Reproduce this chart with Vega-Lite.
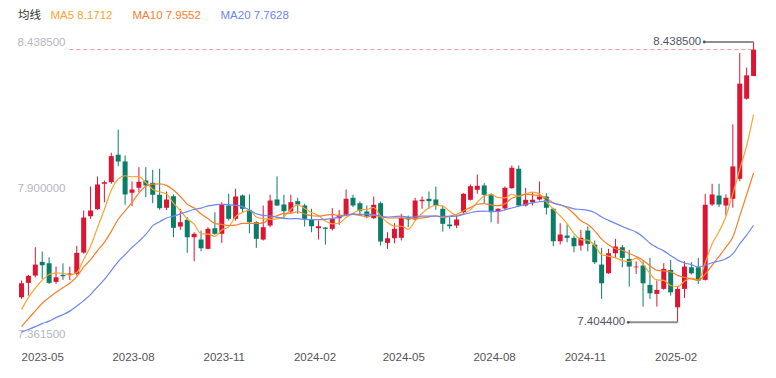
{
"$schema": "https://vega.github.io/schema/vega-lite/v6.json",
"width": 745, "height": 292,
"autosize": {"type": "none"},
"padding": {"left": 17, "top": 42, "right": 14, "bottom": 44},
"config": {"view": {"stroke": null}, "font": "Liberation Sans, Noto Sans CJK SC, sans-serif"},
"datasets": {
"k": [
{"date":"2023-04-10","open":7.4968,"high":7.5585,"low":7.4909,"close":7.5485},
{"date":"2023-04-17","open":7.5500,"high":7.5796,"low":7.5031,"close":7.5759},
{"date":"2023-04-24","open":7.5770,"high":7.6815,"low":7.5707,"close":7.6176},
{"date":"2023-05-01","open":7.6276,"high":7.6656,"low":7.5648,"close":7.6150},
{"date":"2023-05-08","open":7.6224,"high":7.6445,"low":7.5463,"close":7.5500},
{"date":"2023-05-15","open":7.5537,"high":7.6102,"low":7.5463,"close":7.5707},
{"date":"2023-05-22","open":7.5796,"high":7.6224,"low":7.5611,"close":7.5744},
{"date":"2023-05-29","open":7.5796,"high":7.6102,"low":7.5596,"close":7.5844},
{"date":"2023-06-05","open":7.5833,"high":7.6866,"low":7.5770,"close":7.6608},
{"date":"2023-06-12","open":7.6619,"high":7.8170,"low":7.6571,"close":7.7911},
{"date":"2023-06-19","open":7.7959,"high":7.9056,"low":7.7863,"close":7.8170},
{"date":"2023-06-26","open":7.8218,"high":7.9425,"low":7.8196,"close":7.9130},
{"date":"2023-07-03","open":7.9156,"high":7.9277,"low":7.8476,"close":7.9215},
{"date":"2023-07-10","open":7.9215,"high":8.0301,"low":7.9156,"close":8.0175},
{"date":"2023-07-17","open":8.0227,"high":8.1150,"low":7.9806,"close":7.9979},
{"date":"2023-07-24","open":7.9979,"high":8.0201,"low":7.8381,"close":7.8761},
{"date":"2023-07-31","open":7.8824,"high":7.9241,"low":7.8329,"close":7.8945},
{"date":"2023-08-07","open":7.9008,"high":7.9769,"low":7.8846,"close":7.9230},
{"date":"2023-08-14","open":7.9277,"high":7.9769,"low":7.8661,"close":7.9093},
{"date":"2023-08-21","open":7.9193,"high":7.9673,"low":7.8439,"close":7.8750},
{"date":"2023-08-28","open":7.8750,"high":7.9710,"low":7.8196,"close":7.8255},
{"date":"2023-09-04","open":7.8270,"high":7.8872,"low":7.8189,"close":7.8576},
{"date":"2023-09-11","open":7.8698,"high":7.8761,"low":7.7184,"close":7.7531},
{"date":"2023-09-18","open":7.7579,"high":7.8233,"low":7.7457,"close":7.7738},
{"date":"2023-09-25","open":7.7828,"high":7.7922,"low":7.6608,"close":7.7184},
{"date":"2023-10-02","open":7.7184,"high":7.7369,"low":7.6298,"close":7.7310},
{"date":"2023-10-09","open":7.7099,"high":7.7431,"low":7.6667,"close":7.6778},
{"date":"2023-10-16","open":7.6756,"high":7.7553,"low":7.6741,"close":7.7494},
{"date":"2023-10-23","open":7.7516,"high":7.8107,"low":7.7273,"close":7.7310},
{"date":"2023-10-30","open":7.7310,"high":7.8476,"low":7.6977,"close":7.8381},
{"date":"2023-11-06","open":7.8355,"high":7.8787,"low":7.7801,"close":7.7863},
{"date":"2023-11-13","open":7.7863,"high":7.8971,"low":7.7801,"close":7.8687},
{"date":"2023-11-20","open":7.8724,"high":7.8761,"low":7.8107,"close":7.8233},
{"date":"2023-11-27","open":7.8196,"high":7.8761,"low":7.7332,"close":7.7738},
{"date":"2023-12-04","open":7.7738,"high":7.7775,"low":7.6793,"close":7.7125},
{"date":"2023-12-11","open":7.7099,"high":7.8355,"low":7.7062,"close":7.7553},
{"date":"2023-12-18","open":7.7616,"high":7.8750,"low":7.7553,"close":7.8539},
{"date":"2023-12-25","open":7.8576,"high":7.9425,"low":7.8329,"close":7.8355},
{"date":"2024-01-01","open":7.8392,"high":7.8750,"low":7.7863,"close":7.8144},
{"date":"2024-01-08","open":7.8133,"high":7.8750,"low":7.8048,"close":7.8476},
{"date":"2024-01-15","open":7.8513,"high":7.8639,"low":7.8048,"close":7.8392},
{"date":"2024-01-22","open":7.8355,"high":7.8418,"low":7.7579,"close":7.7863},
{"date":"2024-01-29","open":7.7838,"high":7.8233,"low":7.7369,"close":7.7590},
{"date":"2024-02-05","open":7.7516,"high":7.7801,"low":7.7099,"close":7.7590},
{"date":"2024-02-12","open":7.7542,"high":7.7553,"low":7.6914,"close":7.7494},
{"date":"2024-02-19","open":7.7494,"high":7.8255,"low":7.7431,"close":7.7863},
{"date":"2024-02-26","open":7.7885,"high":7.8196,"low":7.7642,"close":7.8011},
{"date":"2024-03-04","open":7.8011,"high":7.8945,"low":7.7959,"close":7.8602},
{"date":"2024-03-11","open":7.8639,"high":7.8750,"low":7.8292,"close":7.8355},
{"date":"2024-03-18","open":7.8439,"high":7.8502,"low":7.8011,"close":7.8144},
{"date":"2024-03-25","open":7.8133,"high":7.8355,"low":7.7885,"close":7.7922},
{"date":"2024-04-01","open":7.7885,"high":7.8687,"low":7.7863,"close":7.8381},
{"date":"2024-04-08","open":7.8439,"high":7.8502,"low":7.6877,"close":7.7025},
{"date":"2024-04-15","open":7.6977,"high":7.7369,"low":7.6756,"close":7.7147},
{"date":"2024-04-22","open":7.7147,"high":7.7701,"low":7.6962,"close":7.7494},
{"date":"2024-04-29","open":7.7162,"high":7.8048,"low":7.7062,"close":7.7900},
{"date":"2024-05-06","open":7.7922,"high":7.7985,"low":7.7553,"close":7.7838},
{"date":"2024-05-13","open":7.7838,"high":7.8639,"low":7.7801,"close":7.8539},
{"date":"2024-05-20","open":7.8513,"high":7.8687,"low":7.8233,"close":7.8565},
{"date":"2024-05-27","open":7.8602,"high":7.8872,"low":7.8233,"close":7.8513},
{"date":"2024-06-03","open":7.8576,"high":7.9056,"low":7.8196,"close":7.8355},
{"date":"2024-06-10","open":7.8233,"high":7.8355,"low":7.7395,"close":7.7679},
{"date":"2024-06-17","open":7.7653,"high":7.7922,"low":7.7494,"close":7.7590},
{"date":"2024-06-24","open":7.7616,"high":7.7985,"low":7.7516,"close":7.7838},
{"date":"2024-07-01","open":7.8107,"high":7.8809,"low":7.8048,"close":7.8787},
{"date":"2024-07-08","open":7.8565,"high":7.9130,"low":7.8539,"close":7.9067},
{"date":"2024-07-15","open":7.8934,"high":7.9499,"low":7.8787,"close":7.9082},
{"date":"2024-07-22","open":7.9093,"high":7.9178,"low":7.8439,"close":7.8750},
{"date":"2024-07-29","open":7.8761,"high":7.8809,"low":7.7738,"close":7.8107},
{"date":"2024-08-05","open":7.8144,"high":7.8255,"low":7.7679,"close":7.8233},
{"date":"2024-08-12","open":7.8244,"high":7.9056,"low":7.8196,"close":7.9008},
{"date":"2024-08-19","open":7.8993,"high":7.9832,"low":7.8971,"close":7.9747},
{"date":"2024-08-26","open":7.9710,"high":7.9832,"low":7.8329,"close":7.8355},
{"date":"2024-09-02","open":7.8355,"high":7.9008,"low":7.8318,"close":7.8565},
{"date":"2024-09-09","open":7.8476,"high":7.8846,"low":7.8355,"close":7.8565},
{"date":"2024-09-16","open":7.8576,"high":7.9241,"low":7.8539,"close":7.8687},
{"date":"2024-09-23","open":7.8687,"high":7.8809,"low":7.8022,"close":7.8270},
{"date":"2024-09-30","open":7.8233,"high":7.8270,"low":7.6852,"close":7.7036},
{"date":"2024-10-07","open":7.7036,"high":7.7701,"low":7.6914,"close":7.7283},
{"date":"2024-10-14","open":7.7246,"high":7.7653,"low":7.6999,"close":7.7162},
{"date":"2024-10-21","open":7.7162,"high":7.7246,"low":7.6630,"close":7.6852},
{"date":"2024-10-28","open":7.6877,"high":7.7457,"low":7.6693,"close":7.7162},
{"date":"2024-11-04","open":7.7431,"high":7.7579,"low":7.6667,"close":7.6940},
{"date":"2024-11-11","open":7.6914,"high":7.7062,"low":7.6202,"close":7.6261},
{"date":"2024-11-18","open":7.6176,"high":7.6793,"low":7.4909,"close":7.5485},
{"date":"2024-11-25","open":7.5855,"high":7.6756,"low":7.5833,"close":7.6593},
{"date":"2024-12-02","open":7.6593,"high":7.7125,"low":7.6423,"close":7.6841},
{"date":"2024-12-09","open":7.6815,"high":7.6904,"low":7.6076,"close":7.6423},
{"date":"2024-12-16","open":7.6386,"high":7.6719,"low":7.5363,"close":7.6102},
{"date":"2024-12-23","open":7.6076,"high":7.6298,"low":7.5833,"close":7.6102},
{"date":"2024-12-30","open":7.6139,"high":7.6298,"low":7.4625,"close":7.5485},
{"date":"2025-01-06","open":7.5426,"high":7.6423,"low":7.4909,"close":7.5116},
{"date":"2025-01-13","open":7.5094,"high":7.5585,"low":7.4625,"close":7.5242},
{"date":"2025-01-20","open":7.5279,"high":7.6224,"low":7.5242,"close":7.6017},
{"date":"2025-01-27","open":7.5980,"high":7.6349,"low":7.5031,"close":7.5153},
{"date":"2025-02-03","open":7.4599,"high":7.5363,"low":7.4044,"close":7.5279},
{"date":"2025-02-10","open":7.5279,"high":7.6298,"low":7.4946,"close":7.6102},
{"date":"2025-02-17","open":7.6076,"high":7.6261,"low":7.5807,"close":7.5855},
{"date":"2025-02-24","open":7.6076,"high":7.6423,"low":7.5463,"close":7.5585},
{"date":"2025-03-03","open":7.5611,"high":7.8787,"low":7.5585,"close":7.8381},
{"date":"2025-03-10","open":7.8392,"high":7.9156,"low":7.8336,"close":7.8761},
{"date":"2025-03-17","open":7.8724,"high":7.9156,"low":7.8300,"close":7.8392},
{"date":"2025-03-24","open":7.8355,"high":7.8761,"low":7.7985,"close":7.8639},
{"date":"2025-03-31","open":7.8602,"high":8.1346,"low":7.8270,"close":7.9795},
{"date":"2025-04-07","open":7.9341,"high":8.3979,"low":7.9252,"close":8.2849},
{"date":"2025-04-14","open":8.2295,"high":8.3440,"low":8.2258,"close":8.3155},
{"date":"2025-04-21","open":8.3129,"high":8.4385,"low":8.3129,"close":8.4105}
],
"maEarly": [
{"date":"2023-04-10","series":"MA5","ma":7.4514},
{"date":"2023-04-17","series":"MA5","ma":7.4957},
{"date":"2023-04-24","series":"MA5","ma":7.5308},
{"date":"2023-05-01","series":"MA5","ma":7.5604},
{"date":"2023-05-08","series":"MA5","ma":7.5814},
{"date":"2023-04-10","series":"MA10","ma":7.3886},
{"date":"2023-04-17","series":"MA10","ma":7.4182},
{"date":"2023-04-24","series":"MA10","ma":7.4466},
{"date":"2023-05-01","series":"MA10","ma":7.4750},
{"date":"2023-05-08","series":"MA10","ma":7.4957},
{"date":"2023-05-15","series":"MA10","ma":7.5153},
{"date":"2023-05-22","series":"MA10","ma":7.5326},
{"date":"2023-05-29","series":"MA10","ma":7.5489},
{"date":"2023-06-05","series":"MA10","ma":7.5729},
{"date":"2023-06-12","series":"MA10","ma":7.6088},
{"date":"2023-04-10","series":"MA20","ma":7.3684},
{"date":"2023-04-17","series":"MA20","ma":7.3782},
{"date":"2023-04-24","series":"MA20","ma":7.3886},
{"date":"2023-05-01","series":"MA20","ma":7.3997},
{"date":"2023-05-08","series":"MA20","ma":7.4090},
{"date":"2023-05-15","series":"MA20","ma":7.4219},
{"date":"2023-05-22","series":"MA20","ma":7.4329},
{"date":"2023-05-29","series":"MA20","ma":7.4459},
{"date":"2023-06-05","series":"MA20","ma":7.4644},
{"date":"2023-06-12","series":"MA20","ma":7.4846},
{"date":"2023-06-19","series":"MA20","ma":7.5068},
{"date":"2023-06-26","series":"MA20","ma":7.5356},
{"date":"2023-07-03","series":"MA20","ma":7.5629},
{"date":"2023-07-10","series":"MA20","ma":7.5954},
{"date":"2023-07-17","series":"MA20","ma":7.6287},
{"date":"2023-07-24","series":"MA20","ma":7.6545},
{"date":"2023-07-31","series":"MA20","ma":7.6804},
{"date":"2023-08-07","series":"MA20","ma":7.7032},
{"date":"2023-08-14","series":"MA20","ma":7.7288},
{"date":"2023-08-21","series":"MA20","ma":7.7617}
],
"last": [{"date":"2023-05-28T12:00:00Z","end":"2025-04-23T12:00:00Z","price":8.4105}],
"ann": [
{"date":"2024-12-15","end":"2025-02-03","v":7.4044,"t":"7.404400"},
{"date":"2025-03-02","end":"2025-04-21","v":8.4385,"t":"8.438500"}
]
},
"encoding": {
"x": {"field": "date", "type": "temporal",
 "scale": {"type": "utc", "domain": [{"utc": true, "year": 2023, "month": 4, "date": 10, "hours": 12}, {"utc": true, "year": 2025, "month": 4, "date": 24, "hours": 12}]},
 "axis": {"title": null, "format": "%Y-%m", "formatType": "utc", "labelExpr": "utcFormat(datum.value, '%Y-%m')", "grid": false, "domain": false, "ticks": false, "labelPadding": 17, "labelFontSize": 11.5, "labelColor": "#555555", "labelFlush": false, "labelOverlap": false, "labelAngle": 0,
  "values": [
   {"utc": true, "year": 2023, "month": 5, "date": 1},
   {"utc": true, "year": 2023, "month": 8, "date": 1},
   {"utc": true, "year": 2023, "month": 11, "date": 1},
   {"utc": true, "year": 2024, "month": 2, "date": 1},
   {"utc": true, "year": 2024, "month": 5, "date": 1},
   {"utc": true, "year": 2024, "month": 8, "date": 1},
   {"utc": true, "year": 2024, "month": 11, "date": 1},
   {"utc": true, "year": 2025, "month": 2, "date": 1}]}}
},
"layer": [
{"data": {"name": "k"}, "mark": {"type": "rule", "strokeWidth": 1, "clip": true},
 "encoding": {
  "y": {"field": "low", "type": "quantitative", "scale": {"domain": [7.3615, 8.4385], "nice": false, "zero": false},
   "axis": {"title": null, "values": [7.3615, 7.9, 8.4385], "format": ".6f", "grid": false, "domain": false, "ticks": false, "labelAlign": "left", "labelBaseline": "middle", "labelPadding": 0, "labelFontSize": 11.5, "labelColor": "#b3b7be", "labelFlush": false, "labelOverlap": false}},
  "y2": {"field": "high"},
  "color": {"condition": {"test": "datum.close >= datum.open", "value": "#dc1532"}, "value": "#0b7d66"}}},
{"data": {"name": "k"}, "mark": {"type": "bar", "width": 5, "clip": true},
 "encoding": {
  "y": {"field": "open", "type": "quantitative"},
  "y2": {"field": "close"},
  "color": {"condition": {"test": "datum.close >= datum.open", "value": "#dc1532"}, "value": "#0b7d66"}}},
{"data": {"name": "k"},
 "transform": [
  {"window": [{"op": "mean", "field": "close", "as": "MA5"}], "frame": [-4, 0], "sort": [{"field": "date"}]},
  {"window": [{"op": "mean", "field": "close", "as": "MA10"}], "frame": [-9, 0], "sort": [{"field": "date"}]},
  {"window": [{"op": "mean", "field": "close", "as": "MA20"}], "frame": [-19, 0], "sort": [{"field": "date"}]},
  {"window": [{"op": "row_number", "as": "rn"}], "sort": [{"field": "date"}]},
  {"fold": ["MA5", "MA10", "MA20"], "as": ["series", "ma"]},
  {"filter": "(datum.series == 'MA5' && datum.rn >= 5) || (datum.series == 'MA10' && datum.rn >= 10) || (datum.series == 'MA20' && datum.rn >= 20)"}
 ],
 "mark": {"type": "line", "interpolate": "monotone", "strokeWidth": 1.2, "clip": true},
 "encoding": {
  "y": {"field": "ma", "type": "quantitative"},
  "color": {"field": "series", "type": "nominal",
   "scale": {"domain": ["MA5", "MA10", "MA20"], "range": ["#fba42f", "#fa7d2a", "#6c86f5"]},
   "legend": {"orient": "none", "legendX": 1, "legendY": -32, "direction": "horizontal", "title": "均线", "titleOrient": "left", "titlePadding": 9, "titleFontWeight": "normal", "titleFontSize": 11.5, "titleColor": "#333333", "titleBaseline": "middle",
    "labelFontSize": 11.5, "labelBaseline": "middle", "gridAlign": "none",
    "labelExpr": "datum.label == 'MA5' ? 'MA5 8.1712' : datum.label == 'MA10' ? 'MA10 7.9552' : 'MA20 7.7628'",
    "labelColor": {"expr": "datum.value == 'MA5' ? '#fba42f' : datum.value == 'MA10' ? '#fa7d2a' : '#6c86f5'"},
    "symbolSize": 1, "symbolOpacity": 0, "symbolStrokeWidth": 0, "labelOffset": -11, "columnPadding": 19, "symbolType": "circle"}},
  "detail": {"field": "series"}}},
{"data": {"name": "maEarly"},
 "mark": {"type": "line", "interpolate": "monotone", "strokeWidth": 1.2, "clip": true},
 "encoding": {
  "y": {"field": "ma", "type": "quantitative"},
  "color": {"field": "series", "type": "nominal"}}},
{"data": {"name": "last"}, "mark": {"type": "rule", "stroke": "#ee9aa2", "strokeWidth": 1, "strokeDash": [4, 3]},
 "encoding": {"x2": {"field": "end"}, "y": {"field": "price", "type": "quantitative"}}},
{"data": {"name": "ann"}, "mark": {"type": "rule", "stroke": "#8f8f8f", "strokeWidth": 2},
 "encoding": {"x2": {"field": "end"}, "y": {"field": "v", "type": "quantitative"}}},
{"data": {"name": "ann"}, "mark": {"type": "point", "filled": true, "size": 8, "color": "#555555", "opacity": 1},
 "encoding": {"y": {"field": "v", "type": "quantitative"}}},
{"data": {"name": "ann"}, "mark": {"type": "text", "align": "right", "baseline": "middle", "dx": -3, "fontSize": 11.5, "color": "#4f5663"},
 "encoding": {"y": {"field": "v", "type": "quantitative"}, "text": {"field": "t"}}}
]
}
